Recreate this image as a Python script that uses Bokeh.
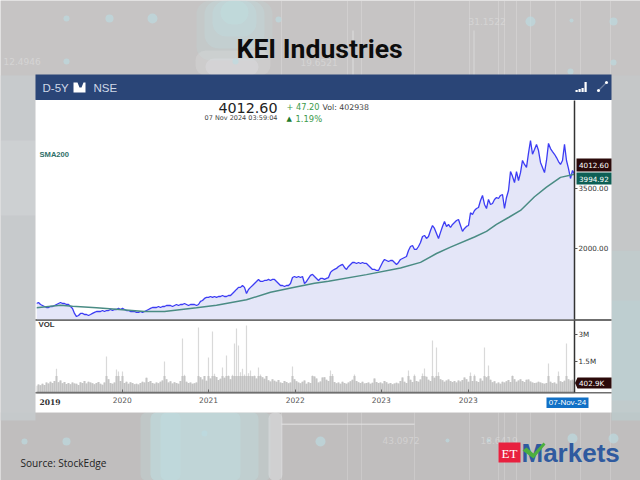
from bokeh.embed import file_html
from bokeh.layouts import column
from bokeh.models import (BoxAnnotation, FixedTicker, Label, PolyAnnotation,
                          PrintfTickFormatter, Range1d)
from bokeh.plotting import figure
from bokeh.resources import INLINE

# ---------- data ----------
price = [
 1197,1208,1186,1175,1164,1153,1153,1164,1164,1175,1186,1197,1208,1197,1197,1186,1186,1164,1143,1091,
 1060,1070,1091,1091,1080,1080,1070,1080,1091,1101,1111,1111,1111,1121,1111,1121,1121,1132,1121,1132,
 1132,1143,1132,1143,1132,1121,1121,1111,1111,1111,1101,1101,1111,1101,1111,1121,1132,1143,1153,1153,
 1153,1164,1153,1164,1164,1175,1175,1175,1164,1175,1186,1175,1186,1186,1197,1186,1175,1186,1186,1186,
 1175,1186,1220,1231,1255,1267,1267,1278,1267,1278,1267,1278,1278,1290,1278,1278,1290,1290,1314,1339,
 1365,1391,1391,1416,1391,1314,1365,1391,1416,1443,1470,1498,1470,1470,1484,1484,1498,1484,1498,1498,
 1470,1443,1416,1416,1403,1416,1416,1443,1525,1540,1525,1540,1525,1540,1443,1470,1512,1555,1570,1540,
 1512,1484,1512,1512,1498,1512,1525,1600,1629,1645,1660,1691,1707,1723,1676,1645,1691,1723,1755,1755,
 1739,1755,1739,1755,1739,1739,1707,1676,1645,1645,1629,1629,1691,1755,1805,1788,1771,1788,1788,1755,
 1723,1755,1805,1822,1839,1856,1963,2037,2057,1982,1982,2037,2116,2237,2258,2196,2237,2366,2478,2410,
 2302,2196,2324,2456,2573,2456,2503,2432,2503,2548,2597,2621,2478,2345,2410,2456,2478,2788,2746,2851,
 2904,2931,3129,3279,3015,2904,3159,3015,3043,3159,3218,3188,3279,3309,2904,3218,3435,4099,3919,3700,
 4099,3771,4058,4545,4380,4260,4870,5477,4816,5036,5280,4987,4464,4260,4058,4545,5330,5081,4940,4816,
 4670,4500,4380,4545,5280,4545,4216,3842,4140,4012.60]

sma_index = [0,12,18,30,43,54,64,80,90,105,117,129,139,146,165,182,192,200,207,219,225,230,236,242,249,255,262,269]
sma200 = [1150,1178,1167,1150,1129,1111,1111,1150,1178,1239,1330,1393,1446,1474,1567,1666,1757,1908,2026,
          2225,2345,2505,2670,2851,3240,3543,3882,3994.92]

volume_k = [
 150,220,180,260,200,330,280,380,300,420, 1100,350,440,290,360,250,310,240,330,280,
 260,200,350,300,420,280,380,340,290,240, 300,360,260,210,330,1780,520,300,260,340,
 1050,950,420,950,310,380,270,350,300,240, 260,220,300,380,340,600,360,420,310,270,
 340,290,380,450,1500,520,330,400,280,350, 310,260,420,2780,760,380,300,340,260,290,
 330,3390,620,500,700,430,1720,560,3170,820, 640,470,540,1170,600,1830,720,510,760,2500,
 3330,2390,900,1100,780,3500,850,1000,680,720, 560,1170,780,620,540,700,460,390,510,430,
 380,470,340,300,420,360,290,330,1220,520, 400,340,290,380,440,260,350,300,720,670,
 560,340,390,610,620,480,420,1000,800,360, 290,330,260,380,310,270,340,400,480,780,
 420,350,310,370,280,300,340,260,320,550, 360,300,340,280,410,350,260,300,240,280,
 320,280,420,610,370,300,1000,480,360,780, 420,380,500,830,1110,650,480,420,2670,600,
 2280,900,520,460,380,440,500,420,360,410, 340,440,390,470,610,520,380,890,420,780,
 400,360,550,430,2280,620,1280,480,350,400, 280,330,260,380,340,400,470,360,720,510,
 380,440,520,410,360,480,500,390,340,300, 320,380,340,290,260,310,1390,380,300,340,
 270,945,400,360,430,2500,520,450,480,402.9]

x_ticks = [42.85, 86, 129.35, 172.35, 215.85]
x_tick_labels = ["2020", "2021", "2022", "2023", "2023"]
price_ticks = [2000, 3500]
volume_ticks = [1500, 3000]
volume_tick_labels = ["1.5M", "3M"]

# ---------- layout constants ----------
W, H = 640, 480
FL, FR = 36, 574          # frame left/right, in window pixels
T_TOP, T_BOT = 100, 319   # price frame
V_TOP, V_BOT = 320, 392   # volume frame
n = len(price)
idx = list(range(n))
P_LO, P_HI = 1031, 7953
V_LO, V_HI = -222, 3778
BASE_CAP = 700

# The page furniture lives on a full-window figure; the two charts sit transparently on top of it.
bg = figure(width=W, height=H, x_range=Range1d(0, W), y_range=Range1d(H, 0), x_axis_location=None,
            y_axis_location=None, output_backend="svg", toolbar_location=None, min_border=0,
            frame_width=W, frame_height=H, frame_align=False,
            background_fill_color="#c6c4c4", border_fill_color="#c6c4c4", outline_line_color=None)
bg.xgrid.visible = False
bg.ygrid.visible = False


def make(height, ftop, fbot, canvas_top, y_range, y_type, x_loc, margin):
    f = figure(width=W, height=height, x_range=Range1d(0, n - 1), y_range=y_range, y_axis_type=y_type,
               x_axis_location=x_loc, y_axis_location="right", output_backend="svg", toolbar_location=None,
               frame_width=FR - FL, frame_height=fbot - ftop, frame_align=False,
               min_border_left=FL, min_border_right=W - FR,
               min_border_top=ftop - canvas_top, min_border_bottom=canvas_top + height - fbot,
               border_fill_color=None, background_fill_color=None, outline_line_color=None, margin=margin)
    f.xgrid.visible = False
    f.ygrid.visible = False
    ax = f.yaxis[0]
    ax.axis_line_color = "#333333"
    ax.axis_line_width = 1.5
    ax.major_tick_line_color = "#555555"
    ax.major_tick_in = 0
    ax.major_tick_out = 3
    ax.minor_tick_line_color = None
    ax.major_label_text_font = "DejaVu Sans"
    ax.major_label_text_font_size = "7.2px"
    ax.major_label_text_color = "#333333"
    ax.major_label_standoff = 1
    return f


top = make(320, T_TOP, T_BOT, 0, Range1d(P_LO, P_HI), "log", None, (-H, 0, 0, 0))
bot = make(160, V_TOP, V_BOT, 320, Range1d(V_LO, V_HI), "linear", "below", (0, 0, 0, 0))


def box(l, r, t, b, color, alpha=1.0, radius=0):
    bg.add_layout(BoxAnnotation(left=l, right=r, top=t, bottom=b, fill_color=color, fill_alpha=alpha,
                                line_color=None, border_radius=int(radius)))


def poly(xs, ys, color, line_color=None, line_width=1):
    bg.add_layout(PolyAnnotation(xs=xs, ys=ys, fill_color=color, fill_alpha=1 if color else 0,
                                 line_color=line_color, line_width=line_width))


def text(x, y, s, size, color, font="Liberation Sans", style="normal", align="left", alpha=1.0):
    bg.add_layout(Label(x=x, y=y, text=s, text_font=font, text_font_size=f"{size}px",
                        text_font_style=style, text_color=color, text_align=align, text_baseline="middle",
                        text_alpha=alpha))


# ---------- backdrop ----------
box(0, 640, 412, 480, "#bcbaba", 0.6)
box(0, 35, 75, 420, "#c8cdd0", 0.7)
box(0, 35, 140, 215, "#d6dadc", 0.4)
# soft teal glow above the title, built from stacked translucent layers
for l, r, t, b, a in ((196, 272, 0, 60, 0.18), (204, 264, 0, 48, 0.22), (212, 256, 0, 36, 0.28), (220, 248, 0, 24, 0.3)):
    box(l, r, t, b, "#bfe3e6", a, 14)
for l, r, t, b, a in ((195, 270, 50, 75, 0.22), (205, 258, 58, 75, 0.3)):
    box(l, r, t, b, "#e6e6ea", a, 10)
# teal wash under the card
for l, r, t, b, a in ((140, 270, 412, 480, 0.22), (150, 258, 412, 480, 0.25), (160, 240, 412, 480, 0.25), (150, 180, 412, 480, 0.2)):
    box(l, r, t, b, "#bfe6ea", a, 6)
box(268, 282, 412, 480, "#dfe2e3", 0.5, 6)
box(611, 640, 250, 420, "#b8d8da", 0.4)
box(611, 640, 300, 400, "#b8d8da", 0.3)
box(611, 640, 75, 250, "#c4cacb", 0.5)
for vx in (361, 414, 498, 516, 555, 580, 610, 281, 347, 469, 504, 530):
    box(vx - 0.5, vx + 0.5, 0, 75, "#e6e6e6", 0.35)
    box(vx - 0.5, vx + 0.5, 412, 480, "#e6e6e6", 0.3)
box(281, 414, 423, 424.5, "#e8e8e8", 0.6)
box(352, 353, 30, 75, "#eeeeee", 0.6)
box(473, 474, 30, 75, "#eeeeee", 0.5)
for dx, dy, r in ((66, 18, 3), (109, 18, 4), (152, 18, 5), (278, 19, 3), (530, 21, 5), (571, 20, 2), (613, 21, 4),
                  (66, 61, 3), (24, 441, 3), (66, 441, 4), (204, 433, 3), (320, 441, 5), (447, 440, 2),
                  (488, 440, 2), (572, 438, 5), (613, 438, 5), (570, 71, 3), (613, 62, 3), (235, 61, 3)):
    box(dx - r, dx + r, dy - r, dy + r, "#bcdce2", 0.65, r)
for s, x, y in (("31.1522", 468, 21), ("12.4946", 3, 61), ("19.6521", 300, 62),
                ("43.0972", 382, 440), ("18.6419", 480, 440)):
    text(x, y, s, 9, "#e8e8e8", "DejaVu Sans", alpha=0.45)

# ---------- white card and header ----------
box(35, 611, 99, 412, "#ffffff")
box(35, 611, 74, 99.5, "#2a4577")
box(35, 611, 318.5, 320.5, "#6f6f6f")
box(35, 611, 391.5, 393, "#6f6f6f")

# ---------- price panel ----------
top.varea(x=idx, y1=price, y2=[P_LO] * n, fill_color="#e4e6f8")
top.line(x=idx, y=price, line_color="#3c3cf4", line_width=1.3)
top.line(x=sma_index, y=sma200, line_color="#4a8c84", line_width=1.5)
top.yaxis[0].ticker = FixedTicker(ticks=price_ticks)
top.yaxis[0].formatter = PrintfTickFormatter(format="%.2f")

# ---------- volume panel ----------
bot.vbar(x=idx, top=volume_k, bottom=V_LO, width=0.6, fill_color="#d9d9d9", line_color=None)
bot.vbar(x=idx, top=[min(v, BASE_CAP) for v in volume_k], bottom=V_LO, width=1.0,
         fill_color="#c4c4c4", line_color=None)
bot.yaxis[0].ticker = FixedTicker(ticks=volume_ticks)
bot.yaxis[0].major_label_overrides = dict(zip(volume_ticks, volume_tick_labels))
xa = bot.xaxis[0]
xa.ticker = FixedTicker(ticks=x_ticks)
xa.major_label_overrides = dict(zip(x_ticks, x_tick_labels))
xa.axis_line_color = "#6f6f6f"
xa.axis_line_width = 1.5
xa.major_tick_line_color = "#666666"
xa.major_tick_in = 3
xa.major_tick_out = 0
xa.minor_tick_line_color = None
xa.major_label_text_font = "DejaVu Sans"
xa.major_label_text_font_size = "7.5px"
xa.major_label_text_color = "#555555"
xa.major_label_standoff = 4

# ---------- texts ----------
text(236, 48, "KEI Industries", 26.6, "#0d0d0d", "Roboto", "bold")
text(42, 87, "D-5Y", 11.5, "#cfd8e8")
text(93, 87, "NSE", 11.5, "#cfd8e8")
poly([73, 73, 77, 79, 81, 83, 85, 85], [92, 82, 82, 87, 87, 82, 82, 92], "#ffffff")
for bx, bh in ((575, 2), (578, 3), (581, 4), (584, 10)):
    box(bx, bx + 2.2, 91.5 - bh, 91.5, "#ffffff")
poly([598, 606], [90, 82], None, "#ffffff", 1.2)
box(596.5, 599.5, 88.5, 91.5, "#ffffff", radius=2)
box(604.5, 607.5, 80.5, 83.5, "#ffffff", radius=2)

text(277, 107, "4012.60", 14.3, "#222222", "DejaVu Sans", align="right")
text(277, 117.5, "07 Nov 2024 03:59:04", 6.5, "#444444", "DejaVu Sans", align="right")
text(286, 106.5, "+ 47.20", 8.2, "#3c9a4a", "DejaVu Sans")
text(322, 106.5, "Vol: 402938", 7.8, "#444444", "DejaVu Sans")
text(286, 118, "\u25b2", 7, "#1c7a2c", "DejaVu Sans")
text(295, 118, "1.19%", 8.4, "#3c9a4a", "DejaVu Sans")
text(39, 153.5, "SMA200", 7.6, "#2f6f68", "Liberation Sans", "bold")

box(576, 611, 158, 171, "#2b0a0a")
text(578.5, 164.7, "4012.60", 7.2, "#ffffff", "DejaVu Sans")
box(576, 611, 172, 184, "#0d5f55")
text(578.5, 178.2, "3994.92", 7.2, "#ffffff", "DejaVu Sans")

text(38, 323.5, "VOL", 7.8, "#333333", "Liberation Sans", "bold")
text(39, 401.5, "2019", 7.6, "#333333", "DejaVu Serif", "bold")
poly([574.5, 577, 611, 611, 577], [382.5, 377, 377, 388, 388], "#2b0a0a")
text(578.5, 382.7, "402.9K", 7.2, "#ffffff", "DejaVu Sans")
box(546, 588, 397, 407.5, "#1170c6")
text(567, 402.3, "07-Nov-24", 8, "#ffffff", "Liberation Sans", align="center")

text(20, 462, "Source:  StockEdge", 10.1, "#222222", "Open Sans")
box(498, 520, 442, 462, "#e8213f")
text(509, 452.5, "ET", 13, "#ffffff", "Liberation Serif", align="center")
text(521, 452.5, "Markets", 26, "#2f5a9f", "Liberation Sans", "bold")
poly([522, 526, 533, 543, 545, 533], [450, 447, 453, 442, 444, 458], "#4caf3e")

layout = column(bg, top, bot, spacing=0)
open("out.html", "w").write(file_html(layout, INLINE))
